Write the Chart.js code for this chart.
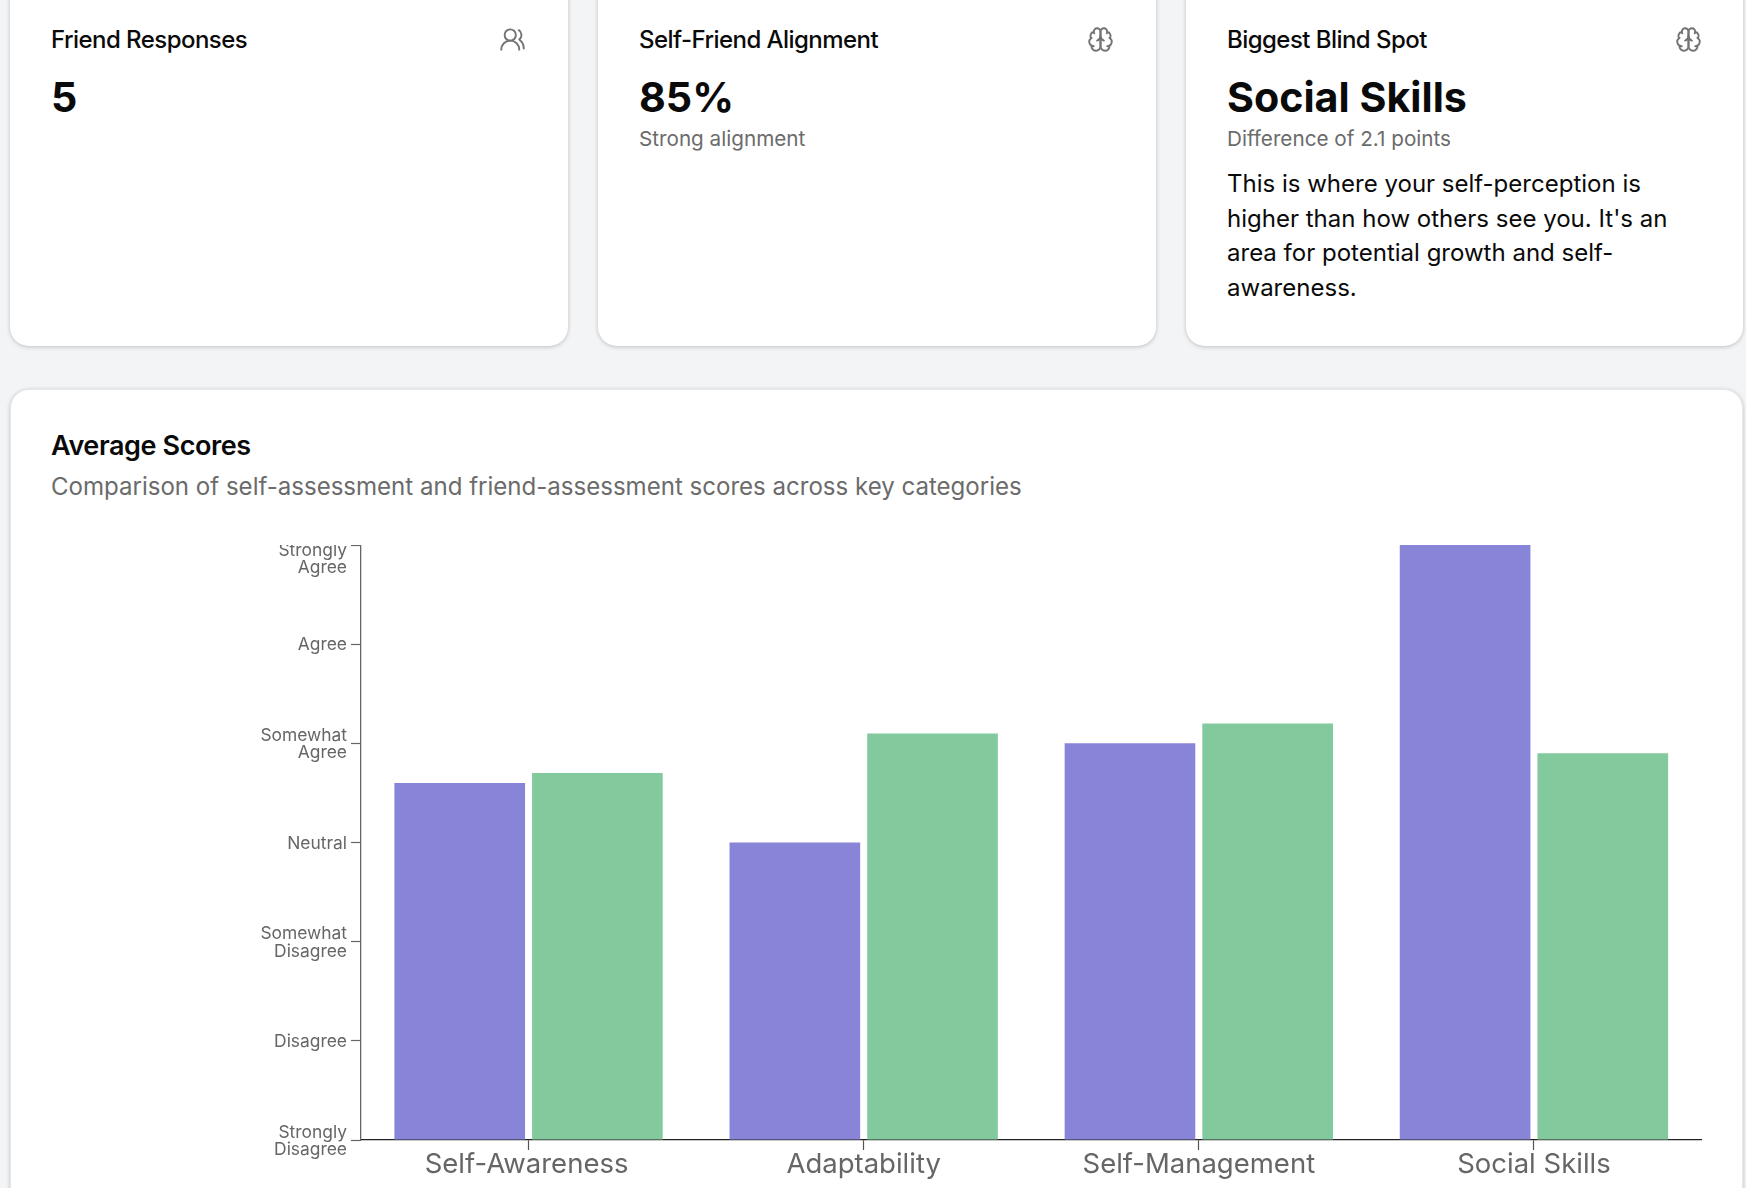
<!DOCTYPE html>
<html>
<head>
<meta charset="utf-8">
<title>Average Scores</title>
<script src="https://cdn.jsdelivr.net/npm/chart.js@4"></script>
<style>
html, body { margin: 0; padding: 0; width: 1746px; height: 1188px; overflow: hidden; background: #f3f4f6; font-family: Inter, sans-serif; }
.card { position: absolute; background: #fff; border-radius: 19px; box-shadow: 0 1px 4px rgba(0,0,0,.22); box-sizing: border-box; }
.txt { position: absolute; white-space: nowrap; }
.head { top: 23px; font-size: 24px; line-height: 34px; font-weight: 500; color: #0a0a0a; letter-spacing: -0.55px; }
.big { top: 69.5px; font-size: 41.2px; line-height: 54px; font-weight: 700; color: #0a0a0a; }
.sub { top: 125px; font-size: 20.7px; line-height: 28px; color: #6b6b6b; }
.para { top: 167px; font-size: 24.03px; line-height: 34.5px; color: #0a0a0a; }
.icon { position: absolute; top: 26px; width: 27px; height: 27px; fill: none; stroke: #737373; stroke-width: 1.7; stroke-linecap: round; stroke-linejoin: round; }
#chartWrap { position: absolute; left: 50px; top: 545px; width: 1660px; height: 643px; }
</style>
</head>
<body>
<div class="card" style="left:10px;top:-30px;width:557.5px;height:376px"></div>
<div class="card" style="left:598px;top:-30px;width:557.5px;height:376px"></div>
<div class="card" style="left:1186px;top:-30px;width:557px;height:376px"></div>
<div class="card" style="left:9.5px;top:389px;width:1733.5px;height:830px;border:1px solid #e5e7eb"></div>

<div class="txt head" style="left:51px">Friend Responses</div>
<div class="txt big" style="left:51px">5</div>
<svg class="icon" style="left:499px" viewBox="0 0 24 24"><path d="M18 21a8 8 0 0 0-16 0"/><circle cx="10" cy="8" r="5"/><path d="M22 20c0-3.37-2-6.5-4-8a5 5 0 0 0-.45-8.3"/></svg>

<div class="txt head" style="left:639px">Self-Friend Alignment</div>
<div class="txt big" style="left:639px">85%</div>
<div class="txt sub" style="left:639px">Strong alignment</div>
<svg class="icon" style="left:1087px" viewBox="0 0 24 24"><path d="M12 5a3 3 0 1 0-5.997.125 4 4 0 0 0-2.526 5.77 4 4 0 0 0 .556 6.588A4 4 0 1 0 12 18Z"/><path d="M12 5a3 3 0 1 1 5.997.125 4 4 0 0 1 2.526 5.77 4 4 0 0 1-.556 6.588A4 4 0 1 1 12 18Z"/><path d="M15 13a4.5 4.5 0 0 1-3-4 4.5 4.5 0 0 1-3 4"/><path d="M17.599 6.5a3 3 0 0 0 .399-1.375"/><path d="M6.003 5.125A3 3 0 0 0 6.401 6.5"/><path d="M3.477 10.896a4 4 0 0 1 .585-.396"/><path d="M19.938 10.5a4 4 0 0 1 .585.396"/><path d="M6 18a4 4 0 0 1-1.967-.516"/><path d="M19.967 17.484A4 4 0 0 1 18 18"/></svg>

<div class="txt head" style="left:1227px">Biggest Blind Spot</div>
<div class="txt big" style="left:1227px">Social Skills</div>
<div class="txt sub" style="left:1227px">Difference of 2.1 points</div>
<div class="txt para" style="left:1227px">This is where your self-perception is<br>higher than how others see you. It's an<br>area for potential growth and self-<br>awareness.</div>
<svg class="icon" style="left:1675px" viewBox="0 0 24 24"><path d="M12 5a3 3 0 1 0-5.997.125 4 4 0 0 0-2.526 5.77 4 4 0 0 0 .556 6.588A4 4 0 1 0 12 18Z"/><path d="M12 5a3 3 0 1 1 5.997.125 4 4 0 0 1 2.526 5.77 4 4 0 0 1-.556 6.588A4 4 0 1 1 12 18Z"/><path d="M15 13a4.5 4.5 0 0 1-3-4 4.5 4.5 0 0 1-3 4"/><path d="M17.599 6.5a3 3 0 0 0 .399-1.375"/><path d="M6.003 5.125A3 3 0 0 0 6.401 6.5"/><path d="M3.477 10.896a4 4 0 0 1 .585-.396"/><path d="M19.938 10.5a4 4 0 0 1 .585.396"/><path d="M6 18a4 4 0 0 1-1.967-.516"/><path d="M19.967 17.484A4 4 0 0 1 18 18"/></svg>

<div class="txt" style="left:51px;top:428px;font-size:27px;line-height:36px;font-weight:600;color:#0a0a0a;letter-spacing:-0.4px">Average Scores</div>
<div class="txt" style="left:51px;top:469px;font-size:24.06px;line-height:36px;color:#6b6b6b">Comparison of self-assessment and friend-assessment scores across key categories</div>

<div id="chartWrap"><canvas id="scores"></canvas></div>

<script>
const categories = ['Self-Awareness', 'Adaptability', 'Self-Management', 'Social Skills'];
const selfScores = [4.6, 4.0, 5.0, 7.0];
const friendScores = [4.7, 5.1, 5.2, 4.9];
const scaleLabels = [
  ['Strongly', 'Disagree'],
  'Disagree',
  ['Somewhat', 'Disagree'],
  'Neutral',
  ['Somewhat', 'Agree'],
  'Agree',
  ['Strongly', 'Agree']
];

// small label shifts: top y label sits under its tick, first x label leans left
const nudgeLabels = {
  id: 'nudgeLabels',
  beforeDraw(chart) {
    const yItems = chart.scales.y.getLabelItems();
    const xItems = chart.scales.x.getLabelItems();
    if (chart.nudged) return;
    yItems.forEach(item => { item.options.translation[1] += 1; });
    yItems[yItems.length - 1].options.translation[1] += 13;
    xItems[0].options.translation[0] -= 2;
    chart.nudged = true;
  }
};

new Chart(document.getElementById('scores'), {
  type: 'bar',
  data: {
    labels: categories,
    datasets: [
      { label: 'Self', data: selfScores, backgroundColor: '#8884d8', base: 1 },
      { label: 'Friends', data: friendScores, backgroundColor: '#82ca9d', base: 1 }
    ]
  },
  options: {
    responsive: true,
    maintainAspectRatio: false,
    animation: false,
    categoryPercentage: 0.8216,
    barPercentage: 0.949,
    layout: { autoPadding: false, padding: { top: 0, right: 8.5, bottom: 0, left: 0 } },
    plugins: { legend: { display: false }, tooltip: { enabled: false } },
    scales: {
      x: {
        afterFit(scale) { scale.height = 48; scale.paddingLeft = 0; scale.paddingRight = 0; },
        border: { color: '#222', width: 1.3 },
        grid: { offset: false, drawOnChartArea: false, drawTicks: true, tickLength: 10, tickColor: '#555', tickWidth: 1.2 },
        ticks: { color: '#666', font: { family: 'Inter', size: 27.5 }, padding: -2, maxRotation: 0, autoSkip: false }
      },
      y: {
        min: 1,
        max: 7,
        afterFit(scale) { scale.width = 311; scale.paddingTop = 0; scale.paddingBottom = 0; },
        border: { color: '#666', width: 1.3 },
        grid: { drawOnChartArea: false, drawTicks: true, tickLength: 10, tickColor: '#666', tickWidth: 1.2 },
        ticks: {
          stepSize: 1,
          color: '#666',
          padding: 4,
          font: { family: 'Inter', size: 17.4, lineHeight: 1 },
          callback: v => scaleLabels[v - 1]
        }
      }
    }
  },
  plugins: [nudgeLabels]
});
</script>
</body>
</html>
